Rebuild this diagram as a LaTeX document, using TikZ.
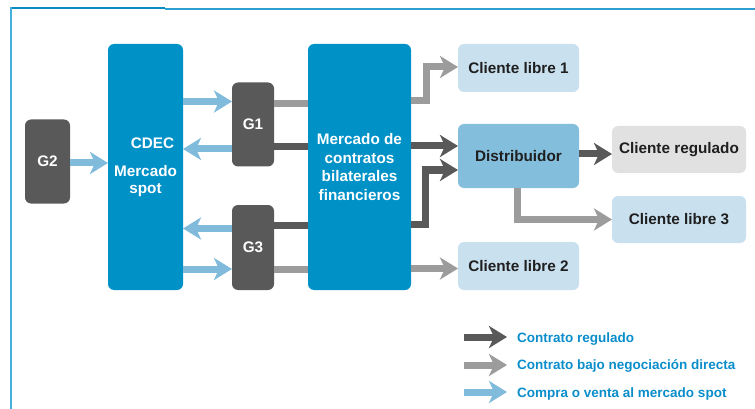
\documentclass[tikz,border=0pt]{standalone}
\usepackage{fontspec}
\setmainfont{Liberation Sans}
\usetikzlibrary{arrows.meta}
\definecolor{boxblue}{HTML}{0091C7}
\definecolor{gdark}{HTML}{595959}
\definecolor{ggray}{HTML}{9C9C9C}
\definecolor{aqua}{HTML}{80BBDC}
\definecolor{paleblue}{HTML}{C9E0EF}
\definecolor{midblue}{HTML}{84BEDD}
\definecolor{palegray}{HTML}{E1E1E1}
\definecolor{legblue}{HTML}{0A8DCB}
\definecolor{frameA}{HTML}{0A8AC0}
\definecolor{frameB}{HTML}{2E9FD2}
\definecolor{frameC}{HTML}{45B0DD}
\begin{document}
\begin{tikzpicture}[x=1pt,y=-1pt,
  box/.style={rounded corners=6pt, inner sep=0pt, outer sep=0pt, align=center,
    font=\fontsize{15.3}{18.7}\selectfont\bfseries},
  gen/.style={box, fill=gdark, text=white, minimum width=42pt, minimum height=84pt},
  mkt/.style={box, fill=boxblue, text=white, minimum height=246pt},
  cli/.style={box, fill=paleblue, text=black!88, minimum width=121pt, minimum height=48pt},
  fat/.style={line width=7pt, line join=miter, -{Stealth[length=18pt,width=22pt,inset=5pt]}},
  bar/.style={line width=7pt},
  legtxt/.style={inner sep=0pt, anchor=base west, text=legblue,
    font=\fontsize{13.5}{16}\selectfont\bfseries},
]
\useasboundingbox (0,0) rectangle (755,409);
% frame
\draw[frameA, line width=2.7pt] (10,8) -- (165,8);
\draw[frameB, line width=2pt] (165,9) -- (755,9);
\draw[frameC, line width=2pt] (11.3,7) -- (11.3,409);

% nodes
\node[gen, minimum width=45pt] (g2) at (47.5,161.5) {G2};
\node[mkt, minimum width=75pt, font=\fontsize{15.3}{16.5}\selectfont\bfseries] (cdec) at (145.5,167) {\hspace*{14pt}CDEC\\[12pt]Mercado\\spot};
\node[gen] (g1) at (253,124.5) {G1};
\node[gen, minimum height=85pt] (g3) at (253,247.5) {G3};
\node[mkt, minimum width=103pt] (merc) at (359.5,167) {Mercado de\\contratos\\bilaterales\\financieros};
\node[cli] (cl1) at (518.5,68) {Cliente libre 1};
\node[cli, fill=midblue, minimum height=64pt] (dist) at (518.5,156) {Distribuidor};
\node[cli, fill=palegray, minimum width=134pt, minimum height=47pt] (creg) at (679,149.5) {Cliente regulado};
\node[cli, minimum width=134pt, minimum height=47pt] (cl3) at (679,219.5) {Cliente libre 3};
\node[cli] (cl2) at (518.5,266) {Cliente libre 2};

% spot market arrows
\draw[fat, aqua] (g2.east |- 0,163) -- (cdec.west |- 0,163);
\draw[fat, aqua] (cdec.east |- 0,101.5) -- (g1.west |- 0,101.5);
\draw[fat, aqua] (g1.west |- 0,149) -- (cdec.east |- 0,149);
\draw[fat, aqua] (g3.west |- 0,228.5) -- (cdec.east |- 0,228.5);
\draw[fat, aqua] (cdec.east |- 0,269) -- (g3.west |- 0,269);

% generator to contract market
\draw[bar, ggray] (g1.east |- 0,104) -- (merc.west |- 0,104);
\draw[bar, gdark] (g1.east |- 0,147) -- (merc.west |- 0,147);
\draw[bar, gdark] (g3.east |- 0,225.5) -- (merc.west |- 0,225.5);
\draw[bar, ggray] (g3.east |- 0,269.5) -- (merc.west |- 0,269.5);

% contract market to clients
\draw[fat, ggray] (merc.east |- 0,101) -| (426.5,67) -- (cl1.west |- 0,67);
\draw[fat, gdark] (merc.east |- 0,146) -- (dist.west |- 0,146);
\draw[fat, gdark] (merc.east |- 0,224.5) -| (425.5,170) -- (dist.west |- 0,170);
\draw[fat, ggray] (merc.east |- 0,268.5) -- (cl2.west |- 0,268.5);
\draw[fat, gdark] (dist.east |- 0,154) -- (creg.west |- 0,154);
\draw[fat, ggray] (dist.south -| 517.5,0) |- (cl3.west |- 0,219.5);

% legend
\coordinate (k1) at (464,337);
\coordinate (k2) at (464,365);
\coordinate (k3) at (464,392);
\draw[fat, gdark] (k1) -- ++(43,0);
\draw[fat, ggray] (k2) -- ++(43,0);
\draw[fat, aqua] (k3) -- ++(43,0);
\node[legtxt] (l1) at (517,342) {Contrato regulado};
\node[legtxt] (l2) at (517,369.5) {Contrato bajo negociación directa};
\node[legtxt] (l3) at (517,397) {Compra o venta al mercado spot};
\end{tikzpicture}
\end{document}
